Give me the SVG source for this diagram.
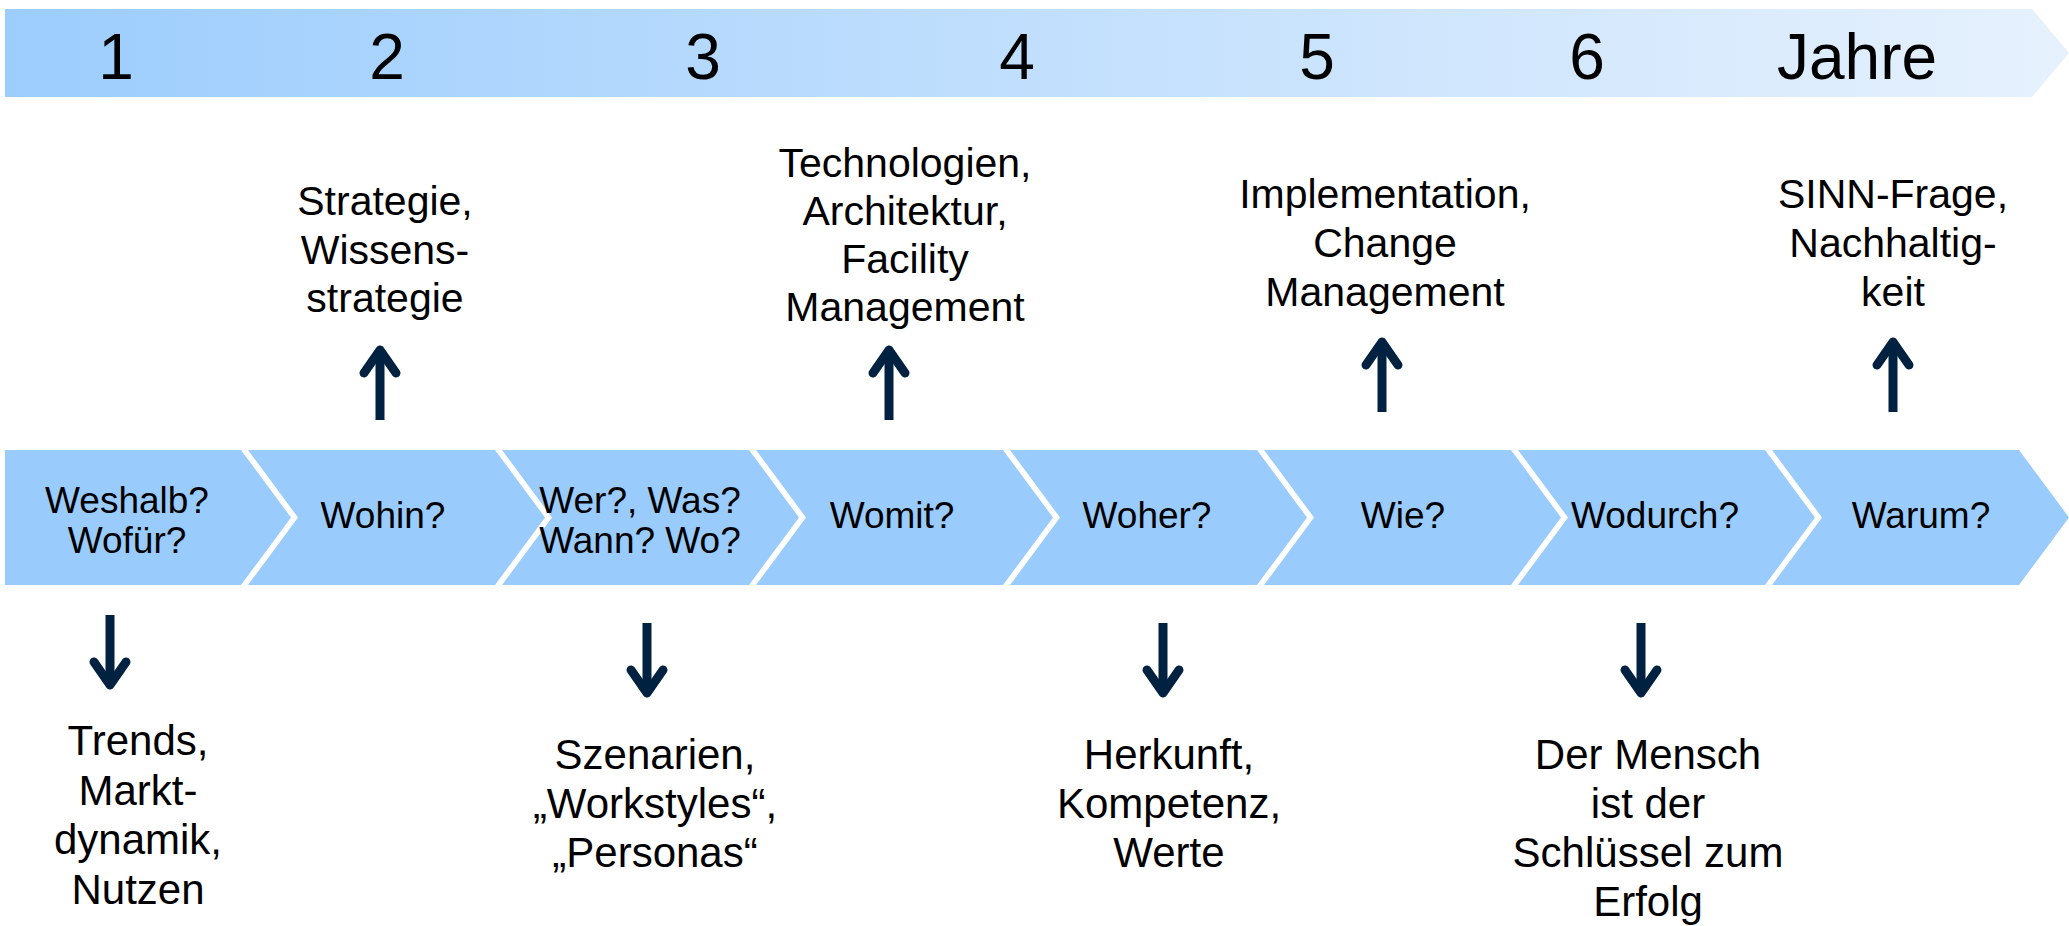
<svg xmlns="http://www.w3.org/2000/svg" width="2069" height="926" viewBox="0 0 2069 926">
<defs>
<linearGradient id="barGrad" x1="0" y1="0" x2="1" y2="0">
<stop offset="0" stop-color="#9ccdfd"/>
<stop offset="1" stop-color="#e6f1fd"/>
</linearGradient>
<style>
text{font-family:"Liberation Sans",Arial,sans-serif;fill:#000;text-anchor:middle}
.num{font-size:64px}
.q{font-size:37px}
.lbl{font-size:41px}
.lblb{font-size:42px}
.chev{fill:#99cbfd}
.arr{fill:none;stroke:#012141;stroke-width:9;stroke-linecap:round;stroke-linejoin:round}
.shaft{fill:none;stroke:#012141;stroke-width:9}
</style>
</defs>
<rect width="2069" height="926" fill="#fff"/>
<g id="timebar">
<polygon points="5,9 2032,9 2069,53 2032,97 5,97" fill="url(#barGrad)"/>
<text class="num" x="116" y="79">1</text>
<text class="num" x="387" y="79">2</text>
<text class="num" x="703" y="79">3</text>
<text class="num" x="1017" y="79">4</text>
<text class="num" x="1317" y="79">5</text>
<text class="num" x="1587" y="79">6</text>
<text class="num" x="1857" y="79">Jahre</text>
</g>
<g id="step1"><polygon class="chev" points="5,450 241,450 291,517.5 241,585 5,585"/><text class="q" x="127" y="513">Weshalb?</text><text class="q" x="127" y="553">Wofür?</text></g>
<g id="step2"><polygon class="chev" points="248,450 495,450 545,517.5 495,585 248,585 298,517.5"/><text class="q" x="383" y="528">Wohin?</text></g>
<g id="step3"><polygon class="chev" points="502,450 749,450 799,517.5 749,585 502,585 552,517.5"/><text class="q" x="640" y="513">Wer?, Was?</text><text class="q" x="640" y="553">Wann? Wo?</text></g>
<g id="step4"><polygon class="chev" points="756,450 1003,450 1053,517.5 1003,585 756,585 806,517.5"/><text class="q" x="892" y="528">Womit?</text></g>
<g id="step5"><polygon class="chev" points="1010,450 1257,450 1307,517.5 1257,585 1010,585 1060,517.5"/><text class="q" x="1147" y="528">Woher?</text></g>
<g id="step6"><polygon class="chev" points="1264,450 1511,450 1561,517.5 1511,585 1264,585 1314,517.5"/><text class="q" x="1403" y="528">Wie?</text></g>
<g id="step7"><polygon class="chev" points="1518,450 1765,450 1815,517.5 1765,585 1518,585 1568,517.5"/><text class="q" x="1655" y="528">Wodurch?</text></g>
<g id="step8"><polygon class="chev" points="1772,450 2019,450 2069,517.5 2019,585 1772,585 1822,517.5"/><text class="q" x="1921" y="528">Warum?</text></g>
<g id="label2"><text class="lbl" x="385" y="215">Strategie,</text><text class="lbl" x="385" y="264">Wissens-</text><text class="lbl" x="385" y="312">strategie</text></g>
<g id="label4"><text class="lbl" x="905" y="177">Technologien,</text><text class="lbl" x="905" y="225">Architektur,</text><text class="lbl" x="905" y="273">Facility</text><text class="lbl" x="905" y="321">Management</text></g>
<g id="label6"><text class="lbl" x="1385" y="208">Implementation,</text><text class="lbl" x="1385" y="257">Change</text><text class="lbl" x="1385" y="306">Management</text></g>
<g id="label8"><text class="lbl" x="1893" y="208">SINN-Frage,</text><text class="lbl" x="1893" y="257">Nachhaltig-</text><text class="lbl" x="1893" y="306">keit</text></g>
<g id="label1"><text class="lblb" x="138" y="755">Trends,</text><text class="lblb" x="138" y="805">Markt-</text><text class="lblb" x="138" y="854">dynamik,</text><text class="lblb" x="138" y="904">Nutzen</text></g>
<g id="label3"><text class="lblb" x="655" y="769">Szenarien,</text><text class="lblb" x="655" y="818">„Workstyles“,</text><text class="lblb" x="655" y="867">„Personas“</text></g>
<g id="label5"><text class="lblb" x="1169" y="769">Herkunft,</text><text class="lblb" x="1169" y="818">Kompetenz,</text><text class="lblb" x="1169" y="867">Werte</text></g>
<g id="label7"><text class="lblb" x="1648" y="769">Der Mensch</text><text class="lblb" x="1648" y="818">ist der</text><text class="lblb" x="1648" y="867">Schlüssel zum</text><text class="lblb" x="1648" y="916">Erfolg</text></g>
<g id="connectors">
<line class="shaft" x1="380" y1="420" x2="380" y2="352"/><polyline class="arr" points="364,373 380,350 396,373"/>
<line class="shaft" x1="889" y1="420" x2="889" y2="352"/><polyline class="arr" points="873,373 889,350 905,373"/>
<line class="shaft" x1="1382" y1="412" x2="1382" y2="344"/><polyline class="arr" points="1366,365 1382,342 1398,365"/>
<line class="shaft" x1="1893" y1="412" x2="1893" y2="344"/><polyline class="arr" points="1877,365 1893,342 1909,365"/>
<line class="shaft" x1="110" y1="615" x2="110" y2="683"/><polyline class="arr" points="94,662 110,685 126,662"/>
<line class="shaft" x1="647" y1="623" x2="647" y2="691"/><polyline class="arr" points="631,670 647,693 663,670"/>
<line class="shaft" x1="1163" y1="623" x2="1163" y2="691"/><polyline class="arr" points="1147,670 1163,693 1179,670"/>
<line class="shaft" x1="1641" y1="623" x2="1641" y2="691"/><polyline class="arr" points="1625,670 1641,693 1657,670"/>
</g>
</svg>
